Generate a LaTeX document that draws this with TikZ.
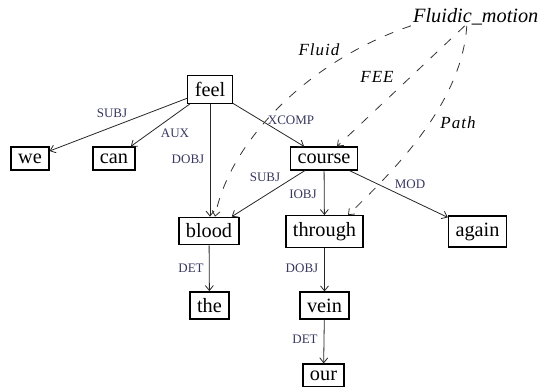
\documentclass[tikz,border=0pt]{standalone}
\usepackage{fontspec}
\setmainfont{Liberation Serif}
\usetikzlibrary{arrows.meta}
\definecolor{labc}{RGB}{55,55,95}
\definecolor{fec}{RGB}{55,50,45}
\begin{document}
\begin{tikzpicture}[x=1pt,y=-1pt,
  word/.style={draw,line width=1.4pt,inner xsep=7pt,inner ysep=6.5pt,font=\fontsize{20.3}{24}\selectfont},
  dep/.style={-{Straight Barb[length=5pt,width=8pt]},line width=0.8pt,draw=black!85},
  lab/.style={font=\fontsize{13}{15}\selectfont,text=labc,inner sep=0pt},
  fe/.style={-{Straight Barb[length=5pt,width=8pt]},line width=0.8pt,draw=fec,dash pattern=on 9pt off 10pt},
  fel/.style={font=\fontsize{17}{20}\selectfont\itshape\addfontfeature{LetterSpace=6},inner sep=0pt}
]
\useasboundingbox (0,0) rectangle (539,387);

% word nodes
\node[word] (feel)    at (210,89.5) {feel};
\node[word] (we)      at (30,158.5) {we};
\node[word] (can)     at (114,158.5) {can};
\node[word] (course)  at (324,158.5) {course};
\node[word] (blood)   at (209,231) {blood};
\node[word] (through) at (324.5,231.5) {through};
\node[word] (again)   at (477.5,231.5) {again};
\node[word] (the)     at (209.5,305.5) {the};
\node[word] (vein)    at (324.5,305.5) {vein};
\node[word] (our)     at (323.5,375.5) {our};

% frame node
\node[inner sep=0pt,anchor=base west,font=\fontsize{20.3}{24}\selectfont\itshape] (fm) at (413,23) {Fluidic\_motion};

% dependency edges
\draw[dep] (feel) -- (we);
\draw[dep] (feel) -- (can);
\draw[dep] (feel) -- (course);
\draw[dep] (feel.south) -- (feel.south |- blood.north);
\draw[dep] (course) -- (blood);
\draw[dep] (course) -- (through);
\draw[dep] (course) -- (again);
\draw[dep] (blood) -- (the);
\draw[dep] (through) -- (vein);
\draw[dep] (vein) -- (our);

% dependency labels
\node[lab] (l1)  at (112,113) {SUBJ};
\node[lab] (l2)  at (175,133) {AUX};
\node[lab] (l3)  at (188,159) {DOBJ};
\node[lab] (l4)  at (291,120) {XCOMP};
\node[lab] (l5)  at (265,177) {SUBJ};
\node[lab] (l6)  at (303,194) {IOBJ};
\node[lab] (l7)  at (410,184) {MOD};
\node[lab] (l8)  at (191,268) {DET};
\node[lab] (l9)  at (302,268) {DOBJ};
\node[lab] (l10) at (305,339) {DET};

% frame element edges
\draw[fe] ([xshift=-2pt]fm.south west) .. controls (310,60) and (230,140) .. ([xshift=6pt]blood.north);
\draw[fe] ([xshift=-11pt]fm.south) -- ([xshift=13pt]course.north);
\draw[fe] ([xshift=-9pt]fm.south) .. controls (462,100) and (400,165) .. ([xshift=23.5pt]through.north);

% frame element labels
\node[fel] (fl1) at (319,50) {Fluid};
\node[fel] (fl2) at (377,77) {FEE};
\node[fel] (fl3) at (458,123) {Path};
\end{tikzpicture}
\end{document}
